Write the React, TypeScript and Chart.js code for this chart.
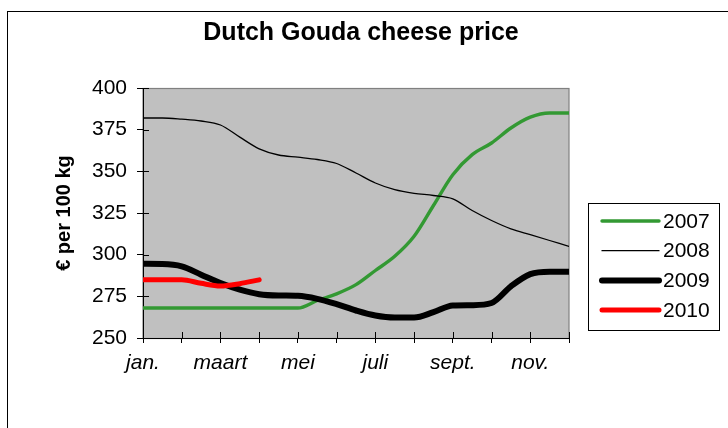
import React, { useEffect, useRef } from 'react';
import { Chart, registerables } from 'chart.js';

Chart.register(...registerables);

const FONT = '"Liberation Sans", Arial, sans-serif';
const TITLE = 'Dutch Gouda cheese price';
const Y_TITLE = '€ per 100 kg';
const MONTH_TICKS = ['jan.', '', 'maart', '', 'mei', '', 'juli', '', 'sept.', '', 'nov.', ''];
const X_POS = [0, 0.5, 1, 1.5, 2, 2.5, 3, 3.5, 4, 4.5, 5, 5.5, 6, 6.5, 7, 7.5, 8, 8.5, 9, 9.5, 10, 10.5, 11];
const SERIES_NAMES = ['2007', '2008', '2009', '2010'];
const V2007 = [268, 268, 268, 268, 268, 268, 268, 268, 268, 272.5, 276.5, 282, 290.5, 299, 311, 329.5, 348, 360, 367, 376, 382.5, 385, 385];
const V2008 = [382, 382, 381.3, 380.2, 377.8, 370.5, 363.5, 359.8, 358.5, 357.1, 354.7, 349, 343, 339, 336.8, 335.5, 333.5, 326.5, 320.5, 315.5, 312, 308.5, 305];
const V2009 = [294.5, 294.4, 293, 288, 283, 279, 276.3, 275.5, 275.3, 273.5, 270.3, 266.5, 263.5, 262.3, 262.3, 265.5, 269.5, 269.7, 271, 281, 288.3, 289.8, 289.8];
const V2010 = [285, 285, 285, 282.8, 281.2, 282.6, 284.9];
const COLORS = ['#339933', '#000000', '#000000', '#FF0000'];
const WIDTHS = [3.4, 1.3, 6, 5];

const toPoints = (vals: number[]) => vals.map((y, i) => ({ x: X_POS[i], y }));

const decoPlugin = {
  id: 'deco',
  beforeDraw(chart: any) {
    const { ctx, chartArea: a } = chart;
    ctx.save();
    ctx.fillStyle = '#ffffff';
    ctx.fillRect(0, 0, chart.width, chart.height);
    ctx.fillStyle = '#C0C0C0';
    ctx.fillRect(a.left, a.top, a.right - a.left, a.bottom - a.top);
    ctx.strokeStyle = '#808080';
    ctx.lineWidth = 1.2;
    ctx.strokeRect(a.left, a.top + 0.5, a.right - a.left, a.bottom - a.top);
    ctx.strokeStyle = '#000';
    ctx.lineWidth = 1;
    ctx.strokeRect(7.5, 11.5, 1000, 1000);
    ctx.fillStyle = '#000';
    ctx.font = `bold 25px ${FONT}`;
    ctx.textAlign = 'center';
    ctx.textBaseline = 'middle';
    ctx.fillText(TITLE, 361, 33);
    ctx.restore();
  },
  beforeDatasetsDraw(chart: any) {
    const { ctx, chartArea: a } = chart;
    const xs = chart.scales.x;
    const ys = chart.scales.y;
    ctx.save();
    ctx.strokeStyle = '#000';
    ctx.lineWidth = 1;
    ctx.beginPath();
    ys.ticks.forEach((t: any) => {
      const py = Math.round(ys.getPixelForValue(t.value)) + 0.5;
      ctx.moveTo(a.left, py);
      ctx.lineTo(a.left + 6, py);
    });
    xs.ticks.forEach((t: any) => {
      const px = Math.round(xs.getPixelForValue(t.value)) + 0.5;
      ctx.moveTo(px, a.bottom);
      ctx.lineTo(px, a.bottom - 6);
    });
    ctx.stroke();
    ctx.restore();
  },
  afterDraw(chart: any) {
    const { ctx } = chart;
    ctx.save();
    ctx.strokeStyle = '#000';
    ctx.lineWidth = 1;
    ctx.strokeRect(588.5, 203.5, 131, 127);
    ctx.font = `21px ${FONT}`;
    ctx.textAlign = 'left';
    ctx.textBaseline = 'middle';
    chart.data.datasets.forEach((ds: any, i: number) => {
      const y = 221 + i * 29.7;
      ctx.strokeStyle = ds.borderColor;
      ctx.lineWidth = ds.borderWidth;
      ctx.lineCap = 'round';
      ctx.beginPath();
      ctx.moveTo(602, y);
      ctx.lineTo(659, y);
      ctx.stroke();
      ctx.fillStyle = '#000';
      ctx.fillText(ds.label, 663, y + 1);
    });
    ctx.restore();
  },
};

export default function App() {
  const ref = useRef<HTMLCanvasElement>(null);
  useEffect(() => {
    if (!ref.current) return;
    const series = [V2007, V2008, V2009, V2010];
    const chart = new Chart(ref.current, {
      type: 'line',
      data: {
        datasets: series.map((vals, i) => ({
          label: SERIES_NAMES[i],
          data: toPoints(vals),
          borderColor: COLORS[i],
          backgroundColor: COLORS[i],
          borderWidth: WIDTHS[i],
          pointRadius: 0,
          cubicInterpolationMode: 'monotone',
          borderCapStyle: 'round',
          borderJoinStyle: 'round',
          fill: false,
          order: 4 - i,
        })),
      },
      options: {
        responsive: false,
        animation: false,
        layout: { padding: { top: 88, right: 159, bottom: 0, left: 0 } },
        plugins: {
          legend: { display: false },
          title: { display: false },
          tooltip: { enabled: false },
        },
        scales: {
          x: {
            type: 'linear',
            min: 0,
            max: 11,
            afterFit: (s: any) => { s.height = 90; },
            ticks: {
              stepSize: 1,
              autoSkip: false,
              maxRotation: 0,
              callback: (_v: any, idx: number) => MONTH_TICKS[idx] ?? '',
              font: { family: FONT, size: 21, style: 'italic' },
              color: '#000',
              padding: 8,
            },
            grid: { drawOnChartArea: false, tickLength: 5, color: '#000' },
            border: { color: '#000', width: 1 },
          },
          y: {
            min: 250,
            max: 400,
            afterFit: (s: any) => { s.width = 143; },
            ticks: {
              stepSize: 25,
              font: { family: FONT, size: 21 },
              color: '#000',
              padding: 10,
            },
            grid: { drawOnChartArea: false, tickLength: 6, color: '#000' },
            border: { color: '#000', width: 1 },
            title: {
              display: true,
              text: Y_TITLE,
              font: { family: FONT, size: 20, weight: 'bold' },
              color: '#000',
              padding: { top: 52, bottom: 0 },
            },
          },
        },
      },
      plugins: [decoPlugin],
    } as any);
    return () => chart.destroy();
  }, []);
  return (
    <div style={{ position: 'fixed', left: 0, top: 0, width: 728, height: 428 }}>
      <canvas ref={ref} width={728} height={428} />
    </div>
  );
}
